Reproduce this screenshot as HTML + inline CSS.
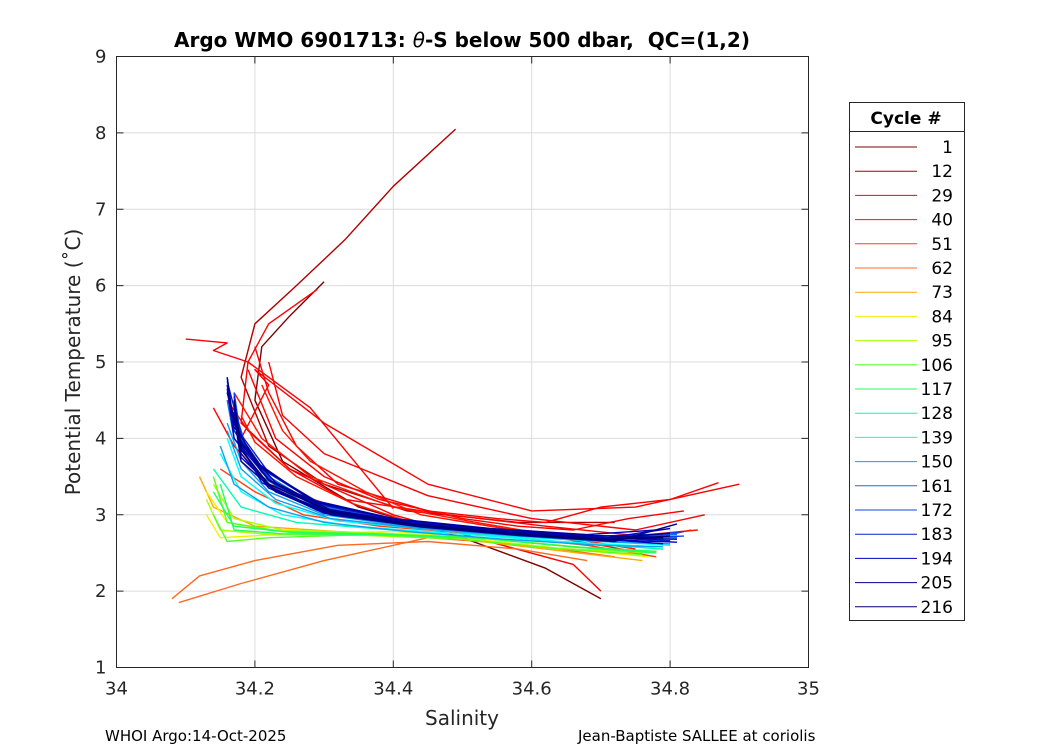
<!DOCTYPE html>
<html><head><meta charset="utf-8"><style>
body{margin:0;background:#fff;font-family:"Liberation Sans","DejaVu Sans",sans-serif}
svg text{font-family:"DejaVu Sans","Liberation Sans",sans-serif}
</style></head><body>
<svg id="c" width="1050" height="750" xmlns="http://www.w3.org/2000/svg">
<rect width="1050" height="750" fill="#fff"/>
<g id="grid"></g>
<g id="marks"></g>
<rect x="116.5" y="56.5" width="692" height="611" fill="none" stroke="#262626"/>
<g id="ticks"></g>
<text x="462" y="47" text-anchor="middle" font-size="20" font-weight="bold" fill="#000">Argo WMO 6901713: <tspan font-style="italic" font-weight="normal">θ</tspan>-S below 500 dbar,&#160; QC=(1,2)</text>
<text x="462" y="725" text-anchor="middle" font-size="20" fill="#262626">Salinity</text>
<text transform="translate(80,362) rotate(-90)" text-anchor="middle" font-size="20" fill="#262626">Potential Temperature (˚C)</text>
<text x="105" y="741" font-size="15" fill="#000">WHOI Argo:14-Oct-2025</text>
<text x="578" y="741" font-size="15" fill="#000">Jean-Baptiste SALLEE at coriolis</text>
<g id="legend">
<rect x="849.5" y="102.5" width="115" height="518" fill="#fff" stroke="#262626"/>
<line x1="849.5" y1="131.5" x2="964.5" y2="131.5" stroke="#262626"/>
<text x="906" y="124" text-anchor="middle" font-size="17" font-weight="bold">Cycle #</text>
</g>
</svg>
<script>
const xTicks=[34,34.2,34.4,34.6,34.8,35];
const yTicks=[1,2,3,4,5,6,7,8,9];
const legendCycles=[1,12,29,40,51,62,73,84,95,106,117,128,139,150,161,172,183,194,205,216];
const legendColors=["#7f0000","#b00000","#ff0000","#ff1400","#ff4010","#ff6a20","#ffaa00","#f0f000","#a8ff00","#58ff20","#20ff60","#00ffb0","#00ffff","#10a0f0","#1070f0","#1040f0","#0020d0","#0000c0","#000090","#000068"];
const profCycles=[1,12,29,33,36,29,33,38,45,51,62,66,73,84,90,95,106,117,128,139,145,150,161,172,183,194,200,205,210,216,
 30,35,42,47,150,156,165,170,178,186,190,198,203,208,212,214,100,110,120];
const profSal=[
[34.30,34.25,34.21,34.20,34.24,34.35,34.50,34.62,34.70],
[34.49,34.40,34.33,34.26,34.20,34.18,34.22,34.30,34.42,34.58,34.72],
[34.29,34.22,34.19,34.18,34.25,34.40,34.55,34.66,34.70],
[34.10,34.16,34.14,34.19,34.28,34.38,34.40],
[34.18,34.22,34.20,34.30,34.45,34.60,34.75,34.90],
[34.22,34.24,34.30,34.45,34.60,34.75,34.85],
[34.16,34.19,34.25,34.33,34.48,34.62,34.78,34.83],
[34.14,34.17,34.22,34.35,34.48,34.60,34.72],
[34.17,34.21,34.28,34.40,34.52,34.65,34.75],
[34.15,34.20,34.27,34.38,34.52,34.68,34.78],
[34.08,34.12,34.20,34.32,34.45,34.58,34.68],
[34.09,34.18,34.30,34.45,34.60,34.72],
[34.12,34.14,34.20,34.32,34.48,34.62,34.76],
[34.13,34.16,34.22,34.35,34.50,34.65,34.77],
[34.13,34.15,34.25,34.40,34.55,34.70,34.78],
[34.14,34.17,34.24,34.38,34.52,34.66,34.77],
[34.14,34.16,34.22,34.36,34.50,34.64,34.76],
[34.15,34.17,34.24,34.38,34.52,34.66,34.78],
[34.14,34.18,34.26,34.40,34.55,34.68,34.79],
[34.15,34.18,34.24,34.34,34.48,34.62,34.78],
[34.16,34.18,34.23,34.32,34.46,34.60,34.76,34.80],
[34.16,34.18,34.22,34.30,34.42,34.56,34.70,34.80],
[34.16,34.17,34.21,34.28,34.40,34.55,34.70,34.81],
[34.17,34.18,34.22,34.30,34.42,34.56,34.70,34.82],
[34.16,34.17,34.21,34.29,34.41,34.55,34.70,34.80],
[34.17,34.18,34.22,34.30,34.43,34.58,34.72,34.79],
[34.16,34.17,34.20,34.28,34.40,34.54,34.68,34.78],
[34.17,34.18,34.23,34.31,34.44,34.58,34.72,34.81],
[34.16,34.18,34.22,34.30,34.42,34.56,34.70,34.78],
[34.17,34.18,34.22,34.31,34.43,34.57,34.71,34.80],
[34.20,34.22,34.26,34.32,34.45,34.55,34.62,34.70,34.80,34.87],
[34.19,34.23,34.30,34.38,34.50,34.58,34.66,34.74,34.82],
[34.21,34.24,34.28,34.36,34.44,34.56,34.64,34.72,34.84],
[34.18,34.20,34.26,34.34,34.42,34.54,34.62,34.70,34.76],
[34.15,34.17,34.22,34.30,34.42,34.56,34.70,34.79],
[34.16,34.18,34.23,34.31,34.44,34.58,34.72,34.80],
[34.17,34.18,34.22,34.29,34.41,34.55,34.69,34.81],
[34.16,34.17,34.21,34.28,34.40,34.54,34.68,34.79],
[34.17,34.19,34.23,34.31,34.43,34.57,34.71,34.82],
[34.16,34.18,34.22,34.30,34.42,34.56,34.70,34.80],
[34.17,34.18,34.21,34.29,34.41,34.55,34.70,34.79],
[34.16,34.17,34.22,34.30,34.43,34.57,34.71,34.80],
[34.17,34.18,34.23,34.31,34.44,34.58,34.72,34.81],
[34.16,34.17,34.21,34.29,34.41,34.55,34.69,34.79],
[34.17,34.18,34.22,34.30,34.42,34.56,34.70,34.80],
[34.16,34.18,34.23,34.31,34.43,34.57,34.71,34.81],
[34.13,34.15,34.22,34.36,34.50,34.64,34.77],
[34.14,34.16,34.24,34.38,34.52,34.66,34.78],
[34.14,34.17,34.25,34.39,34.53,34.67,34.78]];
const profTheta=[
[6.05,5.60,5.20,4.50,3.70,3.10,2.70,2.30,1.90],
[8.05,7.30,6.60,6.00,5.50,4.80,3.90,3.40,3.05,2.90,2.90],
[5.95,5.50,5.00,4.20,3.60,3.00,2.62,2.35,2.00],
[5.30,5.25,5.15,5.00,4.40,3.30,3.08],
[4.00,4.70,4.90,4.20,3.40,3.05,3.10,3.40],
[5.00,4.30,3.80,3.25,2.95,2.80,3.00],
[4.50,4.10,3.60,3.20,3.00,2.85,2.70,2.80],
[4.40,3.90,3.40,3.00,2.85,2.75,2.65],
[4.60,4.00,3.50,3.10,2.90,2.70,2.55],
[3.60,3.30,3.00,2.85,2.75,2.60,2.45],
[1.90,2.20,2.40,2.60,2.65,2.55,2.40],
[1.85,2.10,2.40,2.70,2.60,2.45],
[3.50,3.10,2.85,2.78,2.70,2.55,2.40],
[3.30,2.90,2.80,2.75,2.70,2.55,2.45],
[3.00,2.70,2.75,2.78,2.68,2.55,2.50],
[3.40,2.95,2.80,2.76,2.70,2.58,2.50],
[3.00,2.65,2.70,2.74,2.68,2.55,2.48],
[3.40,2.80,2.75,2.74,2.70,2.58,2.52],
[3.60,3.10,2.90,2.80,2.72,2.62,2.55],
[3.80,3.30,3.00,2.85,2.76,2.66,2.58],
[4.00,3.50,3.15,2.92,2.80,2.70,2.62,2.60],
[4.20,3.70,3.30,3.00,2.85,2.74,2.66,2.65],
[4.50,4.00,3.50,3.10,2.90,2.78,2.70,2.70],
[4.60,3.90,3.45,3.08,2.88,2.76,2.68,2.72],
[4.80,4.10,3.60,3.15,2.92,2.80,2.72,2.75],
[4.40,3.80,3.35,3.02,2.86,2.75,2.67,2.62],
[4.70,4.20,3.70,3.20,2.95,2.82,2.74,2.80],
[4.30,3.70,3.30,3.00,2.84,2.73,2.65,2.88],
[4.60,3.95,3.45,3.06,2.88,2.76,2.68,2.70],
[4.50,3.85,3.40,3.04,2.87,2.75,2.67,2.72],
[5.20,4.60,3.90,3.40,3.05,2.95,2.90,3.10,3.20,3.42],
[4.90,4.00,3.50,3.20,2.95,2.85,2.80,2.95,3.05],
[4.70,4.10,3.70,3.30,3.00,2.82,2.75,2.70,2.80],
[4.30,3.95,3.50,3.15,2.92,2.78,2.72,2.60,2.50],
[3.90,3.40,3.10,2.90,2.78,2.68,2.60,2.58],
[4.10,3.60,3.20,2.95,2.82,2.72,2.64,2.62],
[4.60,4.00,3.50,3.12,2.90,2.78,2.70,2.74],
[4.70,4.10,3.55,3.14,2.91,2.79,2.71,2.68],
[4.40,3.80,3.38,3.05,2.87,2.76,2.68,2.78],
[4.75,4.05,3.55,3.12,2.90,2.78,2.70,2.66],
[4.55,3.90,3.42,3.06,2.88,2.77,2.69,2.72],
[4.65,4.00,3.46,3.08,2.89,2.78,2.70,2.82],
[4.35,3.75,3.32,3.02,2.86,2.75,2.67,2.64],
[4.80,4.15,3.62,3.16,2.93,2.81,2.73,2.70],
[4.50,3.85,3.38,3.04,2.87,2.76,2.68,2.76],
[4.60,3.92,3.42,3.06,2.88,2.77,2.69,2.68],
[3.20,2.80,2.74,2.73,2.68,2.56,2.50],
[3.50,2.90,2.78,2.75,2.70,2.58,2.52],
[3.30,2.85,2.77,2.74,2.69,2.57,2.50]];

const X0=116.5,X1=808.5,Y0=667.5,Y1=56.5;
const sx=s=>X0+(s-34)/(35-34)*(X1-X0);
const sy=t=>Y0-(t-1)/(9-1)*(Y0-Y1);
const NS="http://www.w3.org/2000/svg";
function mk(tag,attrs,parent){const e=document.createElementNS(NS,tag);for(const k in attrs)e.setAttribute(k,attrs[k]);parent.appendChild(e);return e;}
function colorFor(c){let i=0;for(let k=0;k<legendCycles.length;k++){if(legendCycles[k]<=c)i=k;}return legendColors[i];}
const grid=document.getElementById('grid'),ticks=document.getElementById('ticks'),marks=document.getElementById('marks'),leg=document.getElementById('legend');
xTicks.forEach(v=>{
 const x=sx(v);
 const g=mk('line',{x1:x,y1:Y1,x2:x,y2:Y0,stroke:'#dcdcdc'},grid);
 
 
 mk('line',{x1:x,y1:Y0,x2:x,y2:Y0-7,stroke:'#262626'},ticks);
 mk('line',{x1:x,y1:Y1,x2:x,y2:Y1+7,stroke:'#262626'},ticks);
 const t=mk('text',{x:x,y:Y0+27,'text-anchor':'middle','font-size':18,fill:'#262626'},ticks);
 t.textContent=String(v);
 
 
});
yTicks.forEach(v=>{
 const y=sy(v);
 const g=mk('line',{x1:X0,y1:y,x2:X1,y2:y,stroke:'#dcdcdc'},grid);
 
 
 mk('line',{x1:X0,y1:y,x2:X0+7,y2:y,stroke:'#262626'},ticks);
 mk('line',{x1:X1,y1:y,x2:X1-7,y2:y,stroke:'#262626'},ticks);
 const t=mk('text',{x:X0-10,y:y+6,'text-anchor':'end','font-size':18,fill:'#262626'},ticks);
 t.textContent=String(v);
 
 
});
const order=profCycles.map((c,i)=>i).sort((a,b)=>profCycles[a]-profCycles[b]);
order.forEach(i=>{
 const c=profCycles[i];
 const pts=profSal[i].map((s,j)=>sx(s).toFixed(1)+','+sy(profTheta[i][j]).toFixed(1)).join(' ');
 const p=mk('polyline',{points:pts,fill:'none',stroke:colorFor(c),'stroke-width':1.4,'stroke-linejoin':'round'},marks);
 
 
});
legendCycles.forEach((c,i)=>{
 const y=147+i*24.2;
 const l=mk('line',{x1:855,y1:y,x2:917,y2:y,stroke:legendColors[i],'stroke-width':1},leg);
 
 
 const t=mk('text',{x:953,y:y+6,'text-anchor':'end','font-size':17,fill:'#000'},leg);
 t.textContent=String(c);
 
 
});
</script>
</body></html>
